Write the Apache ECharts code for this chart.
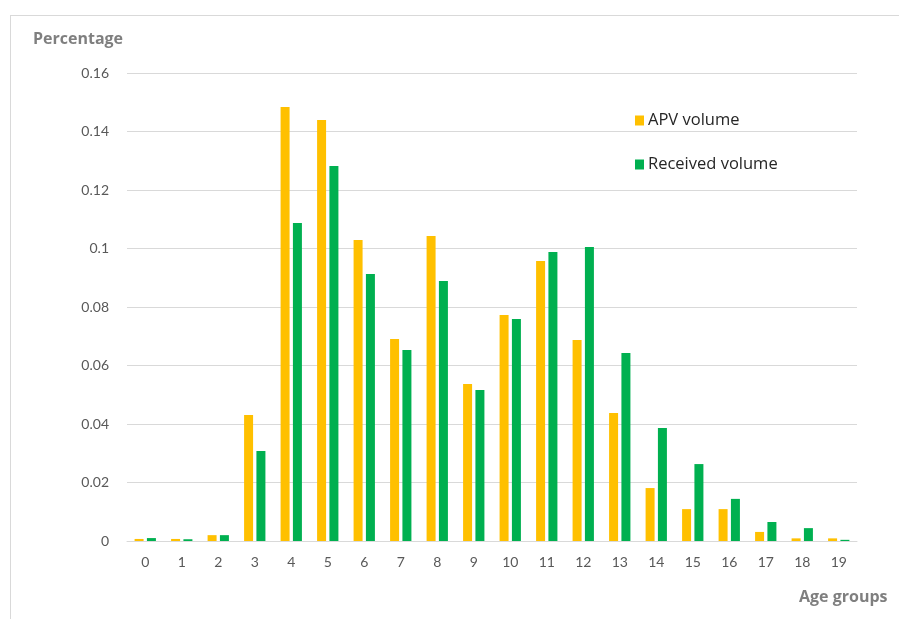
<!DOCTYPE html>
<html><head><meta charset="utf-8">
<script src="https://cdn.jsdelivr.net/npm/echarts@6/dist/echarts.min.js"></script>
<style>
html,body{margin:0;padding:0;background:#fff;}
#frame{position:absolute;left:10px;top:15px;width:895px;height:610px;border:1.5px solid #d9d9d9;box-sizing:border-box;}
#chart{position:absolute;left:0;top:0;width:899px;height:619px;}
</style>
</head><body>
<div id="frame"></div>
<div id="chart"></div>
<script>
const categories = ['0','1','2','3','4','5','6','7','8','9','10','11','12','13','14','15','16','17','18','19'];
const apvVolume = [0.0007,0.0007,0.002,0.0431,0.1484,0.1439,0.1029,0.0691,0.1043,0.0537,0.0773,0.0957,0.0687,0.0438,0.0181,0.0109,0.0109,0.0031,0.0009,0.0009];
const receivedVolume = [0.001,0.0006,0.002,0.0308,0.1087,0.1282,0.0913,0.0653,0.0889,0.0516,0.0759,0.0988,0.1005,0.0643,0.0386,0.0263,0.0144,0.0065,0.0044,0.0004];
const yTicks = [0,0.02,0.04,0.06,0.08,0.1,0.12,0.14,0.16];

const FONT = 'Lato, "Open Sans", sans-serif';
const FONT2 = '"Open Sans", Lato, sans-serif';
const chart = echarts.init(document.getElementById('chart'), null, {renderer:'canvas'});
chart.setOption({
  animation:false,
  backgroundColor:'transparent',
  textStyle:{fontFamily:FONT},
  grid:{left:127,right:42,top:73,bottom:78,containLabel:false},
  legend:{
    orient:'vertical', left:630, top:107, itemGap:27, itemWidth:9, itemHeight:10,
    icon:'rect',
    textStyle:{fontFamily:FONT2,fontSize:16.5,color:'#262626',padding:[0,0,0,-1]},
    data:['APV volume','Received volume']
  },
  graphic:[
    {type:'text',left:33,top:31,style:{text:'Percentage',fontFamily:FONT2,fontSize:16,fontWeight:'bold',fill:'#7f7f7f'}},
    {type:'text',left:799,top:589,style:{text:'Age groups',fontFamily:FONT2,fontSize:16,fontWeight:'bold',fill:'#7f7f7f'}}
  ],
  xAxis:{
    type:'category', data:categories,
    axisLine:{lineStyle:{color:'#d9d9d9',width:1}},
    axisTick:{show:false},
    axisLabel:{color:'#595959',fontSize:14,fontFamily:FONT,margin:14}
  },
  yAxis:{
    type:'value', min:0, max:0.16, interval:0.02,
    axisLine:{show:false}, axisTick:{show:false},
    splitLine:{lineStyle:{color:'#d9d9d9',width:1}},
    axisLabel:{color:'#595959',fontSize:14,fontFamily:FONT,margin:18,
      formatter:function(v){ const t=yTicks.find(x=>Math.abs(x-v)<1e-9); return (t===undefined? v : t).toString(); }}
  },
  series:[
    {name:'APV volume',type:'bar',data:apvVolume,barWidth:9,barGap:'37%',itemStyle:{color:'#FFC000'}},
    {name:'Received volume',type:'bar',data:receivedVolume,barWidth:9,itemStyle:{color:'#00B050'}}
  ]
});
</script>
</body></html>
